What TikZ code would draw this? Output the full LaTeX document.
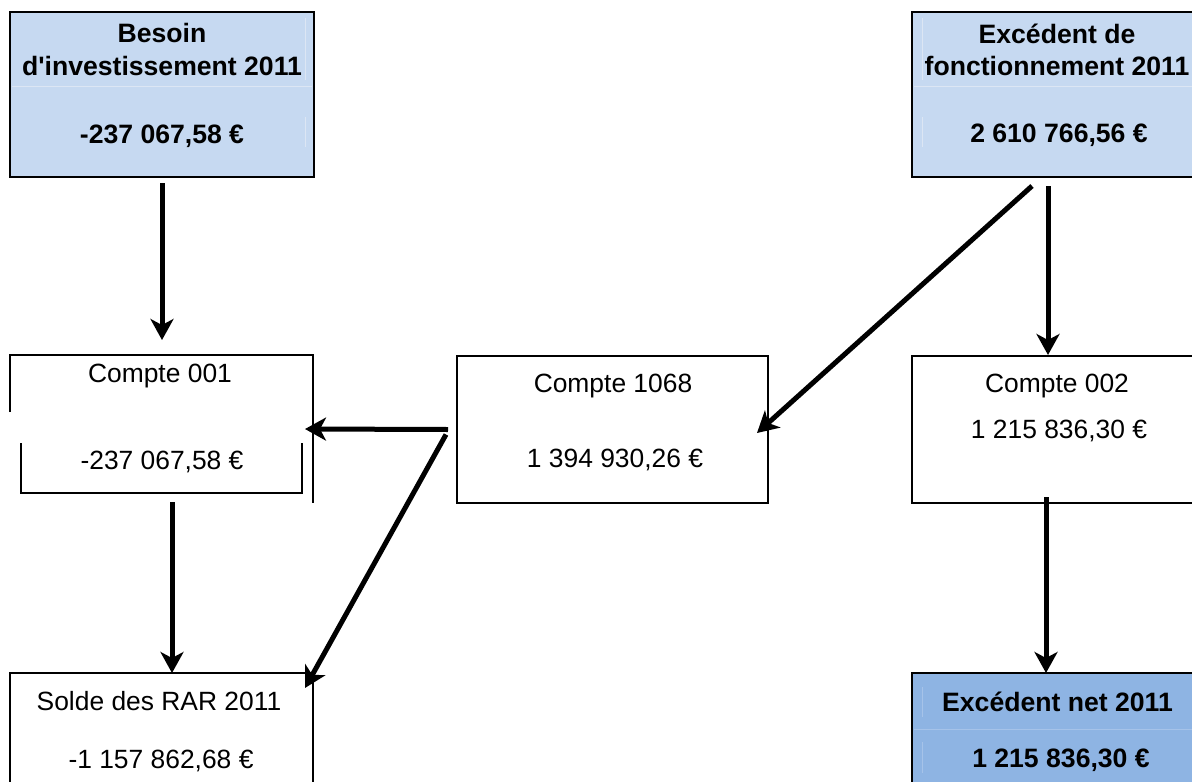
\documentclass[tikz,border=0pt]{standalone}
\usepackage{fontspec}
\setmainfont{Liberation Sans}[Ligatures=TeXOff]
\usetikzlibrary{arrows.meta}
\definecolor{lightblue}{HTML}{C6D9F1}
\definecolor{midblue}{HTML}{8EB4E3}
\definecolor{faintA}{HTML}{DCE6F4}
\definecolor{faintB}{HTML}{A6C3E9}
\begin{document}
\begin{tikzpicture}[x=1pt,y=-1pt,
  box/.style={draw=black,line width=2.5pt,inner sep=0pt,outer sep=0pt},
  boxline/.style={draw=black,line width=2pt},
  arr/.style={line width=5pt,-{Stealth[length=21pt,width=23pt,inset=6pt]}},
  txt/.style={font=\fontsize{26.4}{30}\selectfont,anchor=base,inner sep=0pt},
  btxt/.style={txt,font=\fontsize{26.6}{30}\selectfont\bfseries},
  faint/.style={line width=1pt}]
\useasboundingbox (0,0) rectangle (1192,782);
\clip (0,0) rectangle (1192,782);
% boxes
\node[box,fill=lightblue,minimum width=304pt,minimum height=165pt] (bi) at (162,94.5) {};
\node[box,fill=lightblue,minimum width=290pt,minimum height=165pt] (ef) at (1057,94.5) {};
\node[inner sep=0pt,outer sep=0pt,minimum width=303pt,minimum height=148pt] (c1) at (161.5,429) {};
\node[box,minimum width=311pt,minimum height=147pt] (c1068) at (612.5,429.5) {};
\node[box,minimum width=290pt,minimum height=147pt] (c2) at (1057,429.5) {};
\node[box,minimum width=303pt,minimum height=160pt] (rar) at (161.5,753) {};
\node[box,fill=midblue,minimum width=290pt,minimum height=160pt] (en) at (1057,753) {};
% faint cell lines
\draw[faint,faintA] (12,86) -- (312,86);
\draw[faint,faintA] (305,18) -- (305,80) (305,117) -- (305,147);
\draw[faint,faintA] (914,86) -- (1192,86);
\draw[faint,faintA] (922,18) -- (922,80) (922,117) -- (922,147);
\draw[faint,faintB] (914,729) -- (1192,729);
\draw[faint,faintB] (922,687) -- (922,717) (922,742) -- (922,773);
% odd border of Compte 001
\draw[boxline] ([yshift=-57pt]c1.north west) -- (c1.north west) -- (c1.north east) -- (c1.south east);
\draw[boxline] ([xshift=11pt,yshift=60pt]c1.south west) -- ([xshift=11pt,yshift=10pt]c1.south west)
  -- ([xshift=-11pt,yshift=10pt]c1.south east) -- ([xshift=-11pt,yshift=60pt]c1.south east);
% texts
\node[btxt] (bi1) at (162,42) {Besoin};
\node[btxt] (bi2) at (162,75) {d'investissement 2011};
\node[btxt] (bi3) at (162,143) {-237 067,58 €};
\node[btxt] (ef1) at (1057,43) {Excédent de};
\node[btxt] (ef2) at (1057,75) {fonctionnement 2011};
\node[btxt] (ef3) at (1059,142) {2 610 766,56 €};
\node[txt] (c11) at (160,382) {Compte 001};
\node[txt] (c12) at (162,469) {-237 067,58 €};
\node[txt] (c681) at (613,392) {Compte 1068};
\node[txt] (c682) at (615,467) {1 394 930,26 €};
\node[txt] (c21) at (1057,392) {Compte 002};
\node[txt] (c22) at (1059,438) {1 215 836,30 €};
\node[txt] (rar1) at (159,710) {Solde des RAR 2011};
\node[txt] (rar2) at (161,768) {-1 157 862,68 €};
\node[btxt] (en1) at (1057.5,711) {Excédent net 2011};
\node[btxt] (en2) at (1061,767) {1 215 836,30 €};
% connectors
\draw[arr] ([yshift=-6pt]bi.south) -- ([xshift=0.5pt,yshift=15pt]c1.north);
\draw[arr] ([xshift=-9pt,yshift=-9pt]ef.south) -- ([xshift=-9pt,yshift=1pt]c2.north);
\draw[arr] ([xshift=-25pt,yshift=-9pt]ef.south) -- ([xshift=-11pt,yshift=-3.5pt]c1068.east);
\draw[arr] ([xshift=-9pt]c1068.west) -- ([xshift=-8pt]c1.east);
\draw[arr] ([xshift=-11pt,yshift=-5pt]c1068.west) -- ([xshift=-8pt,yshift=-15pt]rar.north east);
\draw[arr] ([xshift=10.5pt,yshift=1pt]c1.south) -- ([xshift=10.5pt]rar.north);
\draw[arr] ([xshift=-11pt,yshift=6pt]c2.south) -- ([xshift=-11pt]en.north);
\end{tikzpicture}
\end{document}
